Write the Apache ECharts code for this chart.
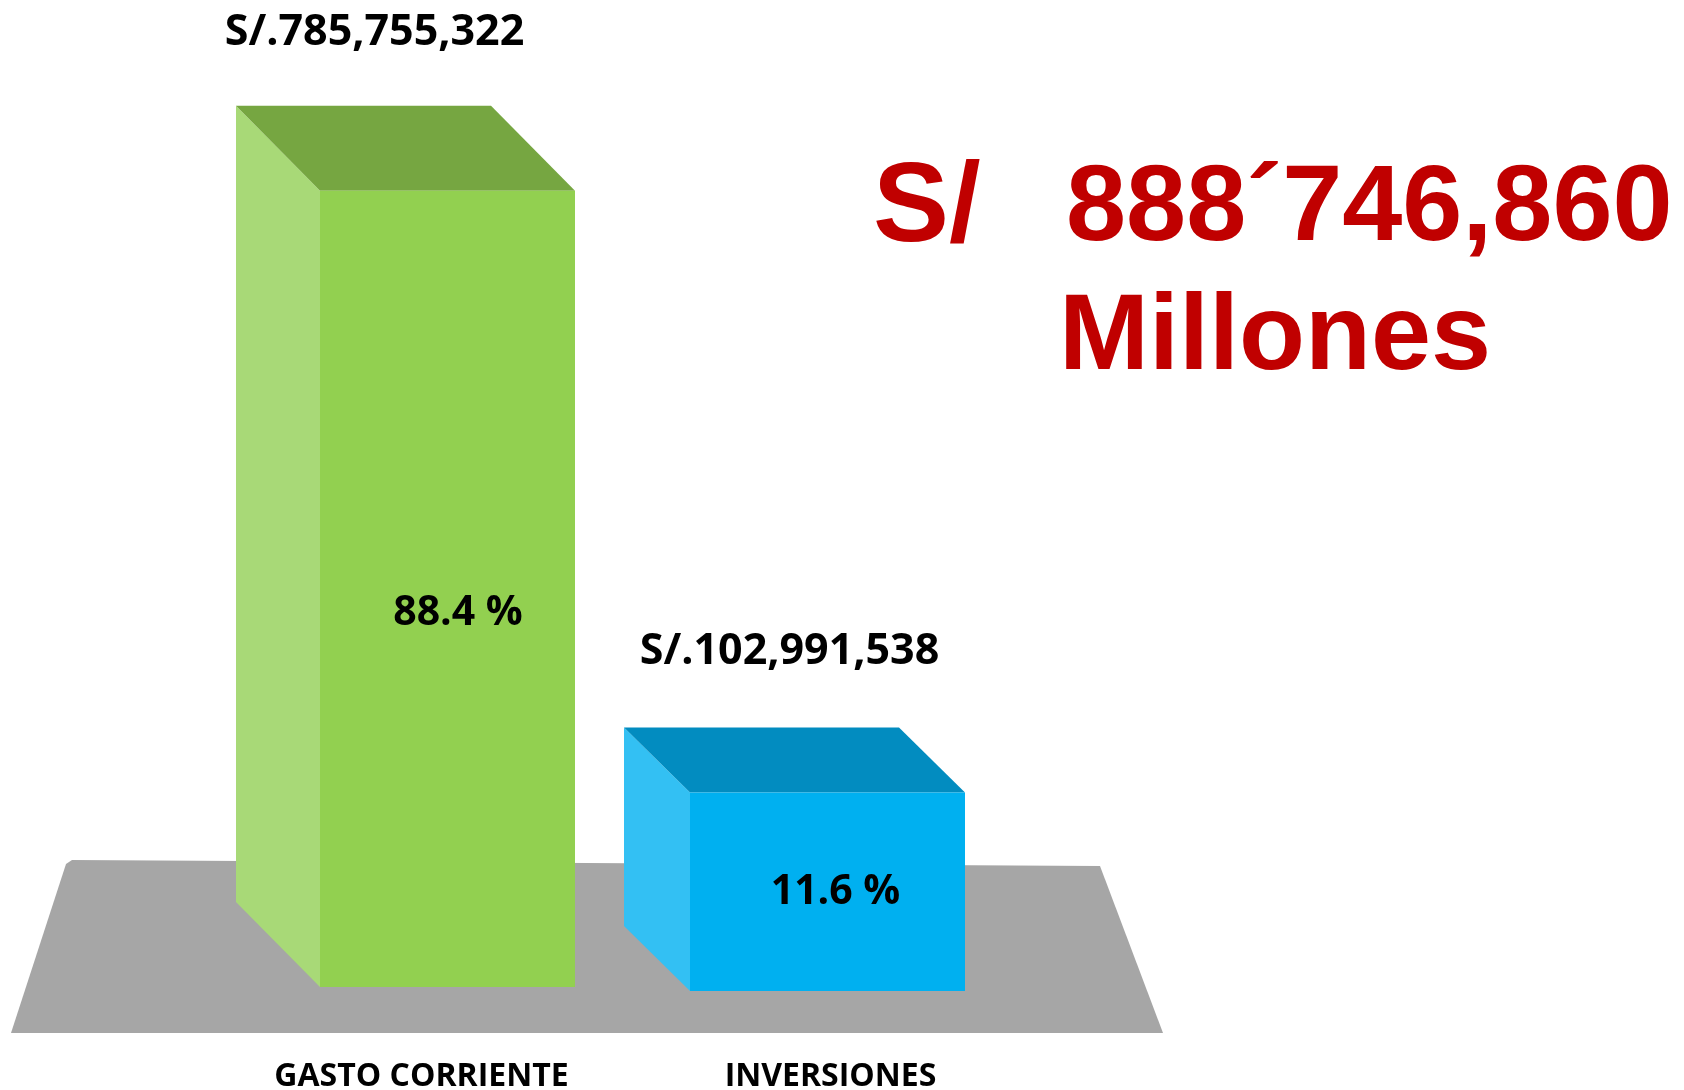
<!DOCTYPE html>
<html>
<head>
<meta charset="utf-8">
<script src="https://cdn.jsdelivr.net/npm/echarts@6/dist/echarts.min.js"></script>
<style>
  html, body { margin: 0; padding: 0; background: #ffffff; }
  #chart { width: 1684px; height: 1090px; }
</style>
</head>
<body>
<div id="chart"></div>
<script>
// ---- data ----
const categories = ['GASTO CORRIENTE', 'INVERSIONES'];
const amounts = [785755322, 102991538];
const shares = [88.4, 11.6];
const totalCurrency = 'S/';
const totalAmount = '888\u00B4746,860';
const totalUnit = 'Millones';

// ---- styles (not data) ----
const yMin = -120000000;
const yMax = 890000000;
const boxColors = [
  { front: '#92d050', top: '#76a641', side: '#a8d977' },
  { front: '#00b0f0', top: '#028cc0', side: '#33c0f3' }
];
const boxGeom = [
  { left: -101.5, right: 153.5, dx: 84, dy: 85, base: -2, valDx: -47, valDy: -73, pctDx: 10.5, pctDy: 24.5 },
  { left: -140.5, right: 134.5, dx: 66, dy: 65, base: 2, valDx: -41, valDy: -76, pctDx: 8, pctDy: 0.5 }
];
const labelFont = '"Open Sans", "Noto Sans", sans-serif';
const bigFont = '"Liberation Sans", Arial, sans-serif';

function fmtAmount(v) {
  return 'S/.' + v.toLocaleString('en-US');
}

const chart = echarts.init(document.getElementById('chart'), null, { renderer: 'canvas' });

const option = {
  backgroundColor: '#ffffff',
  animation: false,
  grid: { left: 217, right: 649, top: 99, bottom: 101, containLabel: false, outerBoundsMode: 'none' },
  xAxis: {
    type: 'category',
    data: categories,
    axisLine: { show: false },
    axisTick: { show: false },
    splitLine: { show: false },
    axisLabel: {
      margin: 72,
      color: '#000000',
      fontFamily: labelFont,
      fontWeight: 'bold',
      fontSize: 32
    }
  },
  yAxis: {
    type: 'value',
    min: yMin,
    max: yMax,
    show: false,
    splitLine: { show: false }
  },
  graphic: [
    {
      type: 'polygon',
      z: 0,
      shape: { points: [[72, 860], [1100, 866], [1163, 1033], [11, 1033], [66, 864]] },
      style: { fill: '#a6a6a6' }
    },
    {
      type: 'text',
      z: 5,
      x: 873, y: 210,
      style: {
        text: totalCurrency,
        fill: '#c00000',
        font: 'bold 114px ' + bigFont,
        align: 'left',
        verticalAlign: 'middle'
      }
    },
    {
      type: 'text',
      z: 5,
      x: 1066, y: 210,
      style: {
        text: totalAmount,
        fill: '#c00000',
        font: 'bold 108px ' + bigFont,
        align: 'left',
        verticalAlign: 'middle'
      }
    },
    {
      type: 'text',
      z: 5,
      x: 1059, y: 339,
      style: {
        text: totalUnit,
        fill: '#c00000',
        font: 'bold 108px ' + bigFont,
        align: 'left',
        verticalAlign: 'middle'
      }
    }
  ],
  series: [
    {
      type: 'custom',
      z: 2,
      encode: { x: 0, y: 1 },
      data: amounts.map((v, i) => [i, v]),
      renderItem: function (params, api) {
        const i = params.dataIndex;
        const g = boxGeom[i];
        const c = boxColors[i];
        const topPt = api.coord([api.value(0), api.value(1)]);
        const basePt = api.coord([api.value(0), yMin]);
        const cx = topPt[0];
        const top = topPt[1];
        const base = basePt[1] + g.base;
        const fx = cx + g.left;
        const fr = cx + g.right;
        const fw = fr - fx;
        return {
          type: 'group',
          children: [
            {
              type: 'polygon',
              shape: { points: [[fx - g.dx, top - g.dy], [fx, top], [fx, base], [fx - g.dx, base - g.dy]] },
              style: { fill: c.side }
            },
            {
              type: 'polygon',
              shape: { points: [[fx - g.dx, top - g.dy], [fr - g.dx, top - g.dy], [fr, top], [fx, top]] },
              style: { fill: c.top }
            },
            {
              type: 'rect',
              shape: { x: fx, y: top, width: fw, height: base - top },
              style: { fill: c.front }
            },
            {
              type: 'text',
              style: {
                text: fmtAmount(amounts[i]),
                x: cx + g.valDx,
                y: top - g.dy + g.valDy,
                fill: '#000000',
                fontFamily: labelFont,
                fontWeight: 'bold',
                fontSize: 43,
                align: 'center',
                verticalAlign: 'middle'
              }
            },
            {
              type: 'text',
              style: {
                text: shares[i].toFixed(1) + ' %',
                x: fx + fw / 2 + g.pctDx,
                y: (top + base) / 2 + g.pctDy,
                fill: '#000000',
                fontFamily: labelFont,
                fontWeight: 'bold',
                fontSize: 41,
                align: 'center',
                verticalAlign: 'middle'
              }
            }
          ]
        };
      }
    }
  ]
};

chart.setOption(option);
</script>
</body>
</html>
